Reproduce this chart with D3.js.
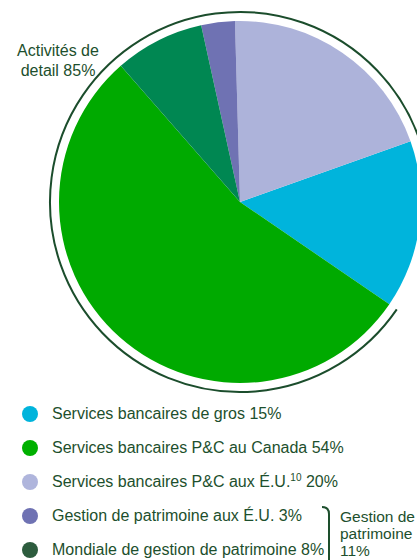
<!DOCTYPE html>
<html>
<head>
<meta charset="utf-8">
<script src="https://cdn.jsdelivr.net/npm/d3@7"></script>
<style>
  html, body { margin: 0; padding: 0; background: #fff; }
  svg { display: block; font-family: Arial, "Liberation Sans", sans-serif; }
</style>
</head>
<body>
<svg id="chart" width="417" height="560"></svg>
<script>
// segments, in legend order
const segments = [
  "Services bancaires de gros",
  "Services bancaires P&C au Canada",
  "Services bancaires P&C aux É.U.",
  "Gestion de patrimoine aux É.U.",
  "Mondiale de gestion de patrimoine"
];
const shares = [15, 54, 20, 3, 8];
const footnotes = ["", "", "10", "", ""];
// order of the slices, clockwise from the top
const sliceOrder = [2, 0, 1, 4, 3];

const retailLabel = ["Activités de", "detail 85%"];
const wealthLabel = ["Gestion de", "patrimoine", "11%"];

const width = 417, height = 560;
const cx = 240, cy = 202, radius = 181, ringRadius = 190;
const startOffset = -1.6 * Math.PI / 180;

const textColour = "#1d4f2d";
const colour = d3.scaleOrdinal()
  .domain(segments)
  .range(["#00b4dc", "#00aa00", "#adb3da", "#6f72b3", "#008752"]);
const dotColour = d3.scaleOrdinal()
  .domain(segments)
  .range(["#00b4dc", "#00b000", "#afb5dc", "#6f72b3", "#2d5c3e"]);

const rows = segments.map((name, i) => ({ name, value: shares[i], note: footnotes[i], rank: sliceOrder.indexOf(i) }));

const svg = d3.select("#chart");

const pie = d3.pie()
  .value(d => d.value)
  .sort((a, b) => a.rank - b.rank)
  .startAngle(startOffset)
  .endAngle(2 * Math.PI + startOffset);

const arcs = pie(rows);
const arc = d3.arc().innerRadius(0).outerRadius(radius);

const chartArea = svg.append("g").attr("transform", `translate(${cx},${cy})`);

chartArea.selectAll("path.slice")
  .data(arcs)
  .enter()
  .append("path")
  .attr("class", "slice")
  .attr("d", arc)
  .attr("fill", d => colour(d.data.name));

// ring around the retail part (everything except wholesale)
const wholesale = arcs.find(a => a.data.name === segments[0]);
const ring = d3.path();
ring.arc(0, 0, ringRadius, wholesale.endAngle - Math.PI / 2, wholesale.startAngle + 2 * Math.PI - Math.PI / 2);
chartArea.append("path")
  .attr("d", ring.toString())
  .attr("fill", "none")
  .attr("stroke", "#1b4d2c")
  .attr("stroke-width", 2);

svg.append("text")
  .attr("x", 58)
  .attr("y", 56)
  .attr("text-anchor", "middle")
  .attr("font-size", 16)
  .attr("fill", textColour)
  .selectAll("tspan")
  .data(retailLabel)
  .enter()
  .append("tspan")
  .attr("x", 58)
  .attr("dy", (d, i) => i === 0 ? 0 : 20)
  .text(d => d);

// legend
const legendY = d3.scalePoint().domain(segments).range([414, 550]);

const legend = svg.selectAll("g.legend")
  .data(rows)
  .enter()
  .append("g")
  .attr("class", "legend")
  .attr("transform", d => `translate(0,${legendY(d.name)})`);

legend.append("circle")
  .attr("cx", 30)
  .attr("r", 8)
  .attr("fill", d => dotColour(d.name));

const label = legend.append("text")
  .attr("x", 52)
  .attr("y", 5)
  .attr("font-size", 16)
  .attr("fill", textColour);

label.append("tspan").text(d => d.name);
label.filter(d => d.note)
  .append("tspan")
  .attr("font-size", 10)
  .attr("dy", -6)
  .text(d => d.note);
label.append("tspan")
  .attr("dy", d => d.note ? 6 : 0)
  .text(d => " " + d.value + "%");

// bracket for wealth management
const bracketTop = legendY(segments[3]) - 9;
svg.append("path")
  .attr("d", `M322,${bracketTop} Q329,${bracketTop} 329,${bracketTop + 7} L329,${height + 2}`)
  .attr("fill", "none")
  .attr("stroke", textColour)
  .attr("stroke-width", 2);

svg.append("text")
  .attr("font-size", 15.5)
  .attr("fill", textColour)
  .selectAll("tspan")
  .data(wealthLabel)
  .enter()
  .append("tspan")
  .attr("x", 340)
  .attr("y", (d, i) => 522 + i * 17)
  .text(d => d);
</script>
</body>
</html>
